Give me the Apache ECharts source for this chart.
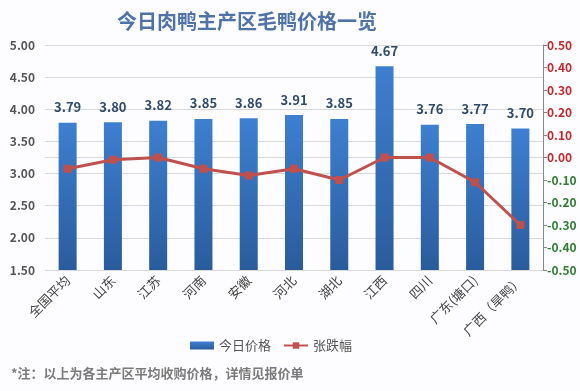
<!DOCTYPE html>
<html><head><meta charset="utf-8">
<script src="https://cdn.jsdelivr.net/npm/echarts@6/dist/echarts.min.js"></script>
<style>html,body{margin:0;padding:0;background:#fdfdff;}#c{width:580px;height:391px;}</style>
</head><body><div id="c"></div>
<script>
const categories = ['全国平均','山东','江苏','河南','安徽','河北','湖北','江西','四川','广东(塘口)','广西（旱鸭）'];
const prices = [3.79,3.80,3.82,3.85,3.86,3.91,3.85,4.67,3.76,3.77,3.70];
const changes = [-0.05,-0.01,0.00,-0.05,-0.08,-0.05,-0.10,0.00,0.00,-0.11,-0.30];
const titleText = '今日肉鸭主产区毛鸭价格一览';
const noteText = '*注：以上为各主产区平均收购价格，详情见报价单';

const chart = echarts.init(document.getElementById('c'));
const ff = '"Noto Sans CJK SC","Microsoft YaHei",sans-serif';
chart.setOption({
  backgroundColor: '#fdfdff',
  textStyle: {fontFamily: ff},
  title: [{
    text: titleText, left: 242, top: 6, textAlign: 'center',
    textStyle: {fontSize: 20, fontWeight: 'bold', color: '#4f73a8', fontFamily: ff}
  },{
    text: noteText, left: 6, top: 362,
    textStyle: {fontSize: 13, fontWeight: 'bold', color: '#7a7a7a', fontFamily: ff}
  }],
  legend: {
    left: 185, top: 334, itemGap: 12, itemWidth: 24, itemHeight: 8,
    textStyle: {fontSize: 13, color: '#555', fontFamily: ff},
    data: [{name: '今日价格', icon: 'rect'}, {name: '张跌幅'}]
  },
  grid: {left: 45, right: 37, top: 45, bottom: 121},
  xAxis: {
    type: 'category', data: categories,
    axisLine: {lineStyle: {color: '#d9d9d9'}},
    axisTick: {show: false},
    axisLabel: {rotate: 45, fontSize: 13, color: '#444', interval: 0, margin: 8}
  },
  yAxis: [{
    type: 'value', min: 1.5, max: 5.0, interval: 0.5,
    axisLine: {show: false}, axisTick: {show: false},
    splitLine: {lineStyle: {color: '#d9d9d9'}},
    axisLabel: {formatter: v => v.toFixed(2), fontSize: 12, color: '#555', fontWeight: 'bold', margin: 10}
  },{
    type: 'value', min: -0.5, max: 0.5, interval: 0.1,
    position: 'right',
    axisLine: {show: true, lineStyle: {color: '#888'}},
    axisTick: {show: true, inside: false, length: 4, lineStyle: {color: '#888'}},
    splitLine: {show: false},
    axisLabel: {
      margin: 4, fontSize: 12, fontWeight: 'bold',
      formatter: v => { const s = (Math.abs(v) < 1e-9 ? 0 : v).toFixed(2); return v < -1e-9 ? '{g|' + s + '}' : '{r|' + s + '}'; },
      rich: {r: {color: '#c0282d', fontSize: 12, fontWeight: 'bold'}, g: {color: '#2e7d32', fontSize: 12, fontWeight: 'bold'}}
    }
  }],
  series: [{
    name: '今日价格', type: 'bar', data: prices, barWidth: 18,
    itemStyle: {color: new echarts.graphic.LinearGradient(0,0,0,1,[{offset:0,color:'#3e7fd0'},{offset:1,color:'#2a5c9c'}])},
    label: {show: true, position: 'top', distance: 9, formatter: p => p.value.toFixed(2), fontSize: 13, fontWeight: 'bold', color: '#2f4b6b'}
  },{
    name: '张跌幅', type: 'line', yAxisIndex: 1, data: changes,
    symbol: 'rect', symbolSize: 8,
    lineStyle: {color: '#c0504d', width: 3},
    itemStyle: {color: '#c0504d'}
  }]
});
</script></body></html>
